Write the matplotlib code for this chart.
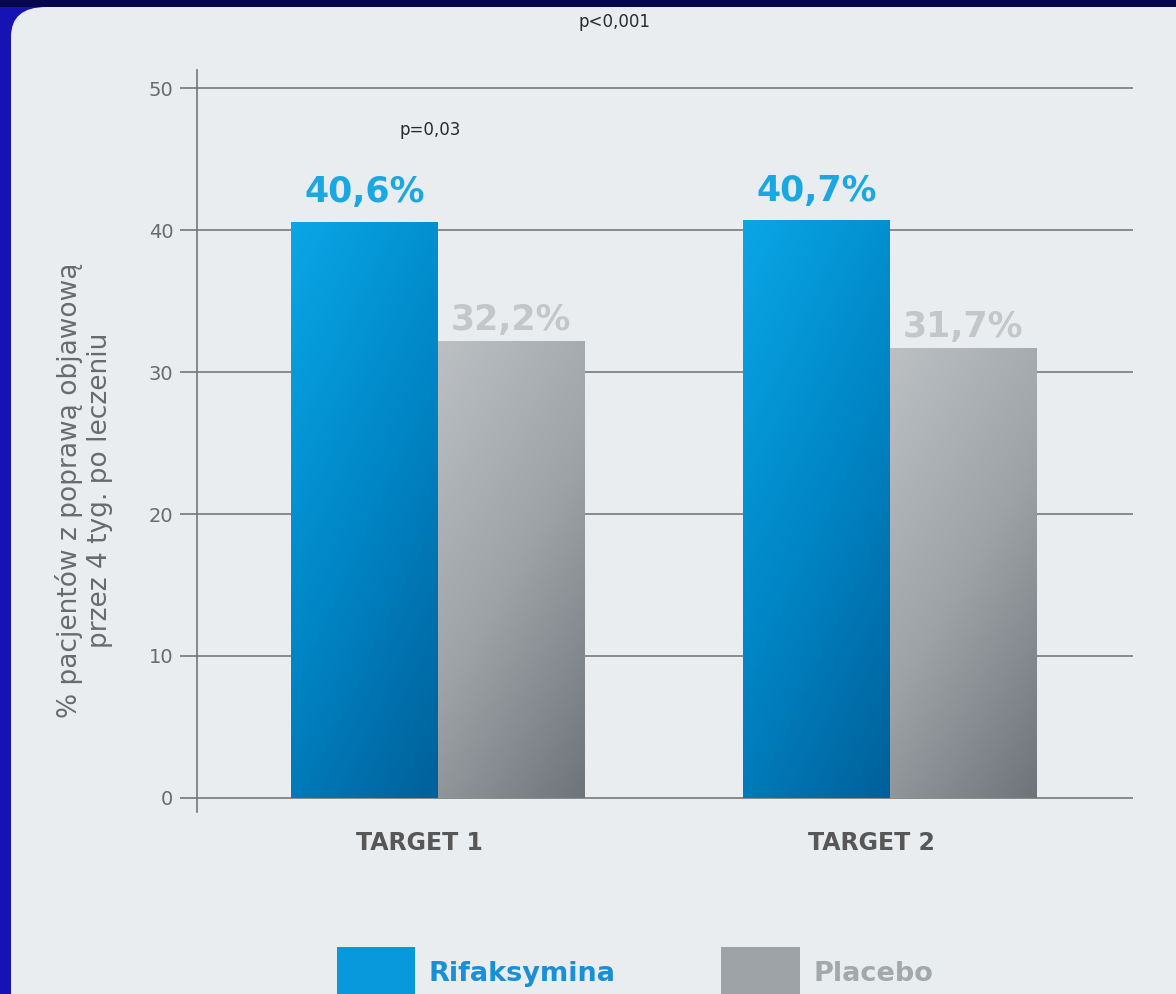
import numpy as np
import matplotlib.pyplot as plt
from matplotlib.patches import FancyBboxPatch, Rectangle, Patch
from matplotlib.colors import LinearSegmentedColormap

# data
groups = ["TARGET 1", "TARGET 2"]
rifaksymina = [40.6, 40.7]
placebo = [32.2, 31.7]
rif_labels = ["40,6%", "40,7%"]
pla_labels = ["32,2%", "31,7%"]
yticks = [0, 10, 20, 30, 40, 50]

fig = plt.figure(figsize=(11.76, 9.94), dpi=100)
fig.patch.set_facecolor("#1712b4")

# dark strip on top, light rounded panel
fig.patches.append(Rectangle((0, 1 - 7 / 994), 1, 7 / 994, transform=fig.transFigure,
                             facecolor="#07074e", edgecolor="none", zorder=-10))
fig.patches.append(FancyBboxPatch((11 / 1176, -0.05), 1.1, 1 - 7 / 994 + 0.05,
                                  boxstyle="round,pad=0,rounding_size=0.03",
                                  transform=fig.transFigure, facecolor="#e9edf0",
                                  edgecolor="none", zorder=-10))

ax = fig.add_axes([197 / 1176, (994 - 812) / 994, (1133 - 197) / 1176, (812 - 70) / 994])
ax.set_facecolor("none")

x = np.arange(len(groups))
w = 0.325
b1 = ax.bar(x - w / 2, rifaksymina, w, color="#0895d4", zorder=3)
b2 = ax.bar(x + w / 2, placebo, w, color="#9aa0a4", zorder=3)

# diagonal gradient fill clipped to each bar
blue_cm = LinearSegmentedColormap.from_list("b", ["#0aa6e6", "#0086c6", "#00609a"])
gray_cm = LinearSegmentedColormap.from_list("g", ["#bcc0c3", "#9ea3a7", "#6e757a"])
gx, gy = np.meshgrid(np.linspace(0, 1, 60), np.linspace(0, 1, 200))
grad = 0.35 * gx + 0.65 * (1 - gy)
for bars, cm in ((b1, blue_cm), (b2, gray_cm)):
    for r in bars:
        x0, y0 = r.get_x(), r.get_y()
        im = ax.imshow(grad, cmap=cm, origin="lower", aspect="auto", zorder=3,
                       extent=(x0, x0 + r.get_width(), y0, y0 + r.get_height()))
        im.set_clip_path(r)

for r, lab in zip(b1, rif_labels):
    ax.text(r.get_x() + r.get_width() / 2, r.get_height() + 0.9, lab, ha="center", va="bottom",
            fontsize=25, fontweight="bold", color="#1ba8e2", zorder=4)
for r, lab in zip(b2, pla_labels):
    ax.text(r.get_x() + r.get_width() / 2, r.get_height() + 0.3, lab, ha="center", va="bottom",
            fontsize=25, fontweight="bold", color="#c3c7ca", zorder=4)

ax.set_xlim(-0.533, 1.538)
ax.set_ylim(-1, 51.3)
ax.set_yticks(yticks)
ax.tick_params(axis="y", direction="out", length=12, width=1.2, color="#777777",
               labelsize=14, labelcolor="#6a6a6a", pad=5)
ax.yaxis.grid(True, color="#8a8a8a", linewidth=1.4, zorder=1)
ax.set_axisbelow(True)
for s in ["top", "right", "bottom"]:
    ax.spines[s].set_visible(False)
ax.spines["left"].set_color("#777777")
ax.spines["left"].set_linewidth(1.2)

ax.set_xticks(x - 0.04)
ax.set_xticklabels(groups, fontsize=17, fontweight="bold", color="#575757")
ax.tick_params(axis="x", length=0, pad=14)

ax.set_ylabel("% pacjentów z poprawą objawową\nprzez 4 tyg. po leczeniu", fontsize=19,
              color="#6a6a6a", linespacing=1.2)
ax.yaxis.set_label_coords(-0.09, 0.434)

fig.text(615 / 1176, 1 - 22 / 994, "p<0,001", ha="center", va="center", fontsize=12, color="#2a2a2a")
fig.text(430 / 1176, 1 - 130 / 994, "p=0,03", ha="center", va="center", fontsize=12, color="#2a2a2a")

handles = [Patch(facecolor="#0898dc", edgecolor="none"), Patch(facecolor="#9da3a7", edgecolor="none")]
leg = fig.legend(handles, ["Rifaksymina", "Placebo"], loc="lower center",
                 bbox_to_anchor=(0.54, -0.03), ncol=2, frameon=False,
                 handlelength=2.9, handleheight=2.6, handletextpad=0.5, columnspacing=3.9,
                 prop={"size": 19.5, "weight": "bold"})
leg.get_texts()[0].set_color("#1a8fd6")
leg.get_texts()[1].set_color("#a3a8ab")

fig.savefig("out.png", dpi=100, facecolor=fig.get_facecolor())
